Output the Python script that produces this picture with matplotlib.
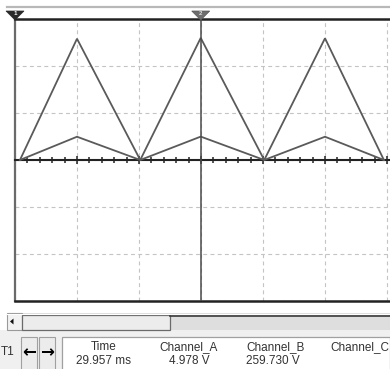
#!/usr/bin/env python3
import matplotlib

matplotlib.use("Agg")
import matplotlib.pyplot as plt
import numpy as np
from matplotlib.patches import Polygon, Rectangle

# waveform corner points (time in ms)
time_ms = [0.8, 10.0, 20.2, 29.957, 40.2, 50.0, 59.5]
channel_a_v = [0.0, 4.95, 0.0, 4.978, 0.0, 4.95, 0.0]
channel_b_v = [0.0, 258.0, 0.0, 259.730, 0.0, 259.0, 0.0]

# scope settings
ms_per_div = 10.0
a_volts_per_div = 10.0
b_volts_per_div = 100.0
cursor_time_ms = 29.957

readout_headers = ["Time", "Channel_A", "Channel_B", "Channel_C"]
readout_values = ["29.957 ms", "4.978 V", "259.730 V", ""]

W, H = 390, 369
TRACE = "#5a5a5a"
GRID = "#c4c4c4"
FONT = "Liberation Sans"

fig = plt.figure(figsize=(W / 100, H / 100), dpi=100)
fig.patch.set_facecolor("white")

# ---- scope screen ----
left, right, top, bottom = 15, 390, 19, 301
ax = fig.add_axes([left / W, 1 - bottom / H, (right - left) / W, (bottom - top) / H])
px_per_ms = 6.2
ax.set_xlim(0, (right - left) / px_per_ms)
ax.set_ylim(-3, 3)

a_div = np.array(channel_a_v) / a_volts_per_div
b_div = np.array(channel_b_v) / b_volts_per_div
ax.plot(time_ms, b_div, color=TRACE, lw=1.3, zorder=3, solid_joinstyle="miter")
ax.plot(time_ms, a_div, color=TRACE, lw=1.3, zorder=3, solid_joinstyle="miter")

ax.set_xticks(np.arange(0, 61, ms_per_div))
ax.set_xticks(np.arange(0, 61, ms_per_div / 5), minor=True)
ax.set_yticks(np.arange(-3, 4, 1))
ax.grid(True, which="major", color=GRID, lw=0.8, linestyle=(0, (3.5, 3)), zorder=0)
ax.set_axisbelow(True)
ax.tick_params(axis="y", length=0, labelleft=False)
ax.tick_params(axis="x", which="major", direction="inout", length=6, width=1.1,
               color="#222222", labelbottom=False)
ax.tick_params(axis="x", which="minor", direction="inout", length=4, width=1.1,
               color="#222222")

ax.spines["bottom"].set_position(("data", 0))
ax.spines["bottom"].set_color("#222222")
ax.spines["bottom"].set_linewidth(1.5)
ax.spines["top"].set_color("#222222")
ax.spines["top"].set_linewidth(1.8)
ax.spines["right"].set_visible(False)
ax.spines["left"].set_color("#6a6a6a")
ax.spines["left"].set_linewidth(1.6)
ax.axhline(-3, color="#222222", lw=1.8, clip_on=False, zorder=4)
ax.axvline(cursor_time_ms, color="#4a4a4a", lw=1.1, zorder=4)

# ---- window chrome in pixel coordinates ----
ui = fig.add_axes([0, 0, 1, 1], zorder=-1)
ui.set_xlim(0, W)
ui.set_ylim(H, 0)
ui.axis("off")

over = fig.add_axes([0, 0, 1, 1], zorder=5)
over.set_xlim(0, W)
over.set_ylim(H, 0)
over.axis("off")
over.patch.set_alpha(0)

# top strip with cursor markers
over.plot([7, W], [7, 7], color="#b8b8b8", lw=1.6)
cursor_px = left + cursor_time_ms * px_per_ms
over.add_patch(Polygon([[6, 11], [24, 11], [15, 20]], closed=True,
                       facecolor="#2a2a2a", edgecolor="#2a2a2a", lw=0.5))
over.text(15.5, 13.5, "1", color="white", fontsize=4.5, ha="center", va="center",
          family=FONT, fontweight="bold")
over.add_patch(Polygon([[cursor_px - 9, 11], [cursor_px + 9, 11], [cursor_px, 20]],
                       closed=True, facecolor="#6e6e6e", edgecolor="#555555", lw=0.5))
over.text(cursor_px, 13.5, "2", color="#dddddd", fontsize=4.5, ha="center", va="center",
          family=FONT, fontweight="bold")

# scrollbar
ui.add_patch(Rectangle((0, 330), W, H - 330, facecolor="#f0f0f0", edgecolor="none"))
ui.add_patch(Rectangle((7, 313), W - 7, 17, facecolor="#dedede", edgecolor="none"))
ui.plot([7, W], [313.5, 313.5], color="#ffffff", lw=0.8)
ui.plot([170, W], [315.5, 315.5], color="#3a3a3a", lw=1.2)
ui.add_patch(Rectangle((7, 313), 15, 17, facecolor="#f2f2f2", edgecolor="#9a9a9a", lw=0.8))
ui.add_patch(Polygon([[10, 321.5], [13.5, 318.5], [13.5, 324.5]], closed=True,
                     facecolor="#111111", edgecolor="none"))
ui.add_patch(Rectangle((22, 315), 148, 15, facecolor="#ececec", edgecolor="#6a6a6a", lw=0.9))

# cursor buttons
for x0, arrow in [(21, "\u2190"), (39, "\u2192")]:
    ui.add_patch(Rectangle((x0, 337), 16, 34, facecolor="#ececec", edgecolor="#a0a0a0", lw=0.8))
    ui.text(x0 + 8, 352, arrow, fontsize=12, ha="center", va="center",
            family="DejaVu Sans", fontweight="heavy", color="#000000")
ui.text(0.5, 352, "T1", fontsize=8.5, ha="left", va="center", family=FONT, color="#333333")

# readout table
ui.add_patch(Rectangle((62, 337), W - 62, 40, facecolor="white", edgecolor="#a0a0a0", lw=0.9))
col_x = [104, 189, 246, 330]
for i, (head, val) in enumerate(zip(readout_headers, readout_values)):
    ha = "center" if i < 2 else "left"
    ui.text(col_x[i], 347, head, fontsize=8.5, ha=ha, va="center", family=FONT, color="#333333")
    ui.text(col_x[i], 361, val, fontsize=8.5, ha=ha, va="center", family=FONT, color="#333333")

fig.savefig("out.png", dpi=100)
